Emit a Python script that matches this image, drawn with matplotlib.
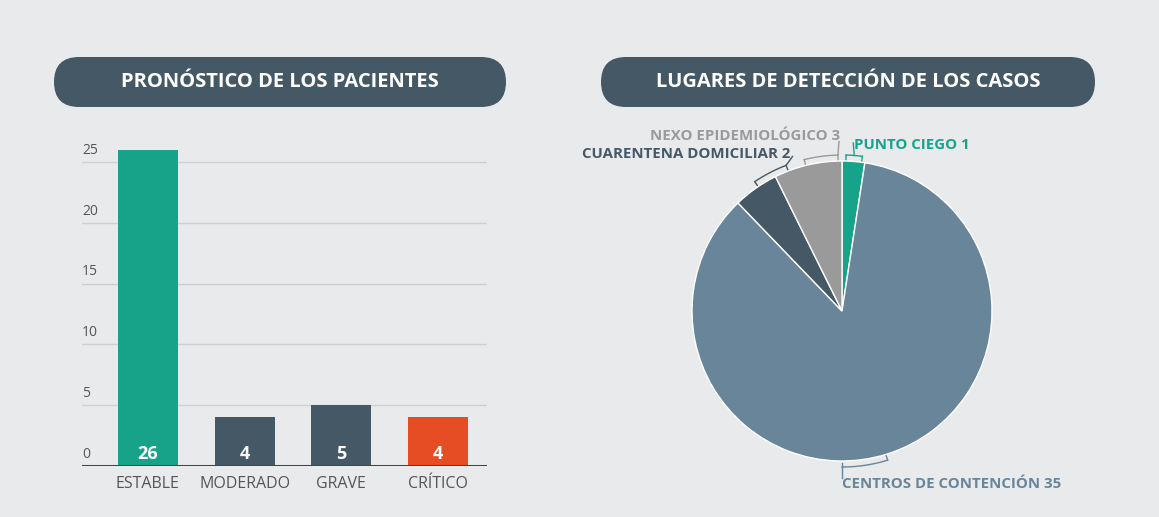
import numpy as np
import matplotlib
matplotlib.use("Agg")
import matplotlib.pyplot as plt
from matplotlib.patches import FancyBboxPatch

# 数据：左侧柱状图（患者预后）
bar_categories = ["ESTABLE", "MODERADO", "GRAVE", "CRÍTICO"]
bar_values = [26, 4, 5, 4]
bar_colors = ["#17a38a", "#455866", "#455866", "#e64d24"]
y_ticks = [0, 5, 10, 15, 20, 25]

# 数据：右侧饼图（检测地点），顺时针自顶部开始
pie_labels = ["PUNTO CIEGO", "CENTROS DE CONTENCIÓN", "CUARENTENA DOMICILIAR", "NEXO EPIDEMIOLÓGICO"]
pie_values = [1, 35, 2, 3]
pie_colors = ["#17a38a", "#69859a", "#455866", "#9a9a9a"]

titles = ["PRONÓSTICO DE LOS PACIENTES", "LUGARES DE DETECCIÓN DE LOS CASOS"]

BG = "#e9eaec"
PILL = "#455866"
TEXT = "#555555"
FONT = ["Open Sans", "DejaVu Sans"]

W, H = 1159, 517
fig = plt.figure(figsize=(W / 100, H / 100), dpi=100)
fig.patch.set_facecolor(BG)


def px_axes(left, top, width, height):
    # 以像素为单位添加坐标轴（原点在左上角）
    return fig.add_axes([left / W, (H - top - height) / H, width / W, height / H])


# 标题胶囊
ov = px_axes(0, 0, W, H)
ov.set_xlim(0, W)
ov.set_ylim(H, 0)
ov.axis("off")
for (x0, x1), title in zip([(54, 506), (601, 1095)], titles):
    ov.add_patch(FancyBboxPatch((x0, 57), x1 - x0, 50,
                                boxstyle="round,pad=0,rounding_size=25",
                                fc=PILL, ec="none"))
    ov.text((x0 + x1) / 2, 82, title, color="white", fontsize=14.5, fontweight="bold",
            ha="center", va="center", family=FONT)

# 柱状图
unit = 12.16
ymax = 27
ax = px_axes(82, 466 - ymax * unit, 405, ymax * unit)
ax.set_facecolor("none")
x = np.arange(len(bar_values))
ax.bar(x, bar_values, width=0.62, color=bar_colors, zorder=2)
ax.set_xlim(-0.68, 3.505)
ax.set_ylim(0, ymax)
for s in ax.spines.values():
    s.set_visible(False)
ax.set_xticks([])
ax.set_yticks([])
for t in y_ticks[1:]:
    ax.axhline(t, color="#cfd0d2", lw=1, zorder=1)
ax.axhline(0, color="#444444", lw=2.2, zorder=3)
for t in y_ticks:
    ax.annotate(str(t), (0, t), xycoords=("axes fraction", "data"),
                xytext=(0, 3), textcoords="offset points",
                ha="left", va="bottom", fontsize=10, color=TEXT, family=FONT)
for xi, v, cat in zip(x, bar_values, bar_categories):
    ax.annotate(str(v), (xi, 0), xytext=(0, 2), textcoords="offset points",
                ha="center", va="bottom", fontsize=13, fontweight="bold",
                color="white", family=FONT, zorder=4)
    ax.annotate(cat, (xi, 0), xytext=(0, -7), textcoords="offset points",
                ha="center", va="top", fontsize=11.5, color=TEXT, family=FONT)

# 饼图：圆心 (842, 311)，半径 150 像素
R = 150.0
cx, cy = 842, 311
pl, pr, pt, pb = 560, 1130, 110, 510
pax = px_axes(pl, pt, pr - pl, pb - pt)
wedges, _ = pax.pie(pie_values, colors=pie_colors, startangle=90, counterclock=False,
                    wedgeprops=dict(edgecolor="white", linewidth=1))
pax.set_aspect("auto")
pax.set_xlim((pl - cx) / R, (pr - cx) / R)
pax.set_ylim((cy - pb) / R, (cy - pt) / R)


def bracket(a1, a2, stem_at, stem_end, color, rb=1.04):
    # 沿弧线绘制括号形引线，stem_at 为引出端（角度），stem_end 为标签端点
    ang = np.radians(np.linspace(a1, a2, 30))
    pax.plot(rb * np.cos(ang), rb * np.sin(ang), color=color, lw=1)
    for a in (a1, a2):
        r = np.radians(a)
        pax.plot([rb * np.cos(r), 1.01 * np.cos(r)], [rb * np.sin(r), 1.01 * np.sin(r)],
                 color=color, lw=1)
    r = np.radians(stem_at)
    sx, sy = rb * np.cos(r), rb * np.sin(r)
    pax.plot([sx, stem_end[0]], [sy, stem_end[1]], color=color, lw=1)


label_cfg = {
    "PUNTO CIEGO": dict(pos=(0.08, 1.107), ha="left", br=(82.5, 88.5, 85.5), stem=(0.075, 1.12)),
    "NEXO EPIDEMIOLÓGICO": dict(pos=(-0.013, 1.167), ha="right", br=(91.5, 104, 91.5), stem=(-0.02, 1.13)),
    "CUARENTENA DOMICILIAR": dict(pos=(-0.347, 1.047), ha="right", br=(111, 124, 111), stem=(-0.33, 1.03)),
    "CENTROS DE CONTENCIÓN": dict(pos=(0.0, -1.153), ha="left", br=(270, 287, 270), stem=(0.0, -1.11)),
}
for lab, val, col in zip(pie_labels, pie_values, pie_colors):
    cfg = label_cfg[lab]
    a1, a2, st = cfg["br"]
    bracket(a1, a2, st, cfg["stem"], col)
    pax.text(cfg["pos"][0], cfg["pos"][1], f"{lab} {val}", ha=cfg["ha"], va="center",
             fontsize=10.8, fontweight="bold", color=col, family=FONT)

fig.savefig("out.png", dpi=100, facecolor=BG)
